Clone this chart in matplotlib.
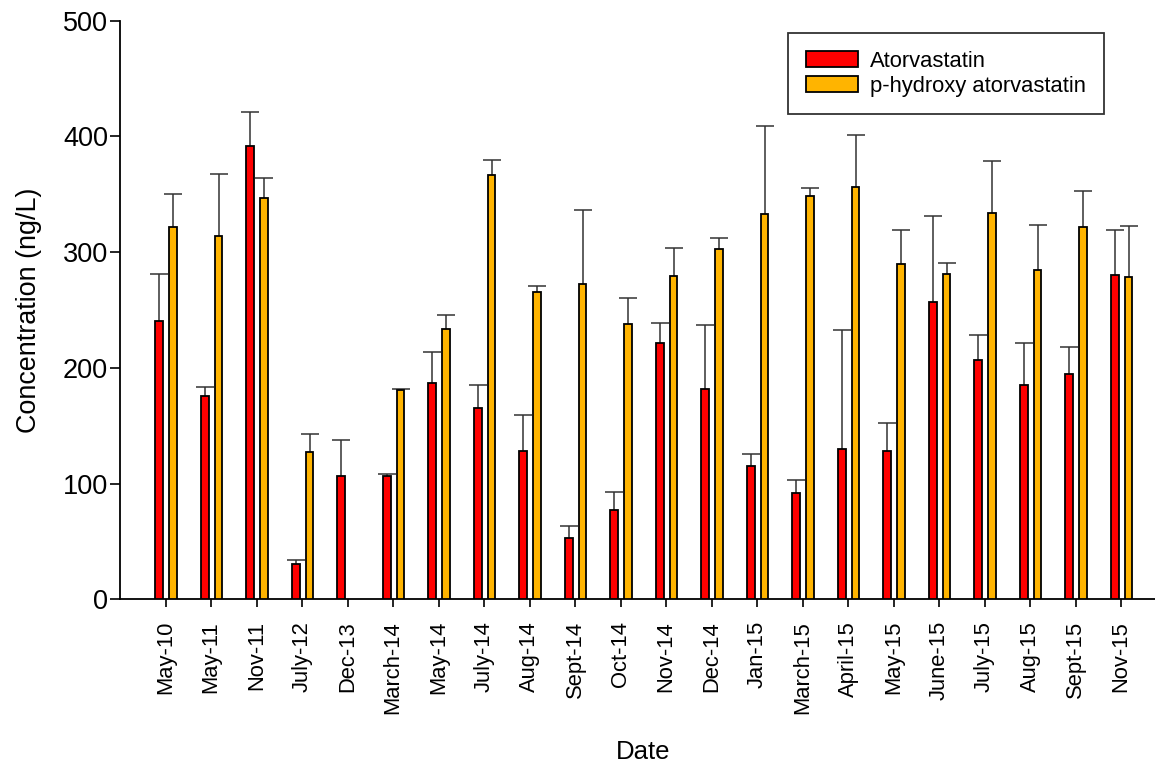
import numpy as np
import matplotlib
matplotlib.use("Agg")
import matplotlib.pyplot as plt

plt.rcParams['font.family'] = ['Liberation Sans', 'DejaVu Sans']

dates = ['May-10', 'May-11', 'Nov-11', 'July-12', 'Dec-13', 'March-14', 'May-14',
         'July-14', 'Aug-14', 'Sept-14', 'Oct-14', 'Nov-14', 'Dec-14', 'Jan-15',
         'March-15', 'April-15', 'May-15', 'June-15', 'July-15', 'Aug-15',
         'Sept-15', 'Nov-15']

atorvastatin = [240.3, 175.7, 392.0, 30.2, 106.8, 106.3, 186.7, 165.1, 127.9, 53.2,
                77.2, 221.3, 181.8, 115.2, 92.1, 129.6, 128.4, 257.0, 207.1, 185.5,
                194.7, 280.6]
atorvastatin_err = [41.1, 7.8, 29.2, 3.5, 31.2, 2.3, 26.8, 20.1, 31.1, 10.2,
                    15.5, 17.2, 55.5, 10.6, 11.3, 103.4, 24.0, 74.3, 21.3, 35.8,
                    23.6, 38.8]

p_hydroxy = [322.0, 314.3, 346.6, 127.6, np.nan, 180.9, 233.9, 366.7, 265.9, 272.5,
             238.2, 279.7, 303.0, 333.0, 348.6, 356.4, 290.1, 280.9, 333.9, 284.6,
             321.5, 278.3]
p_hydroxy_err = [28.0, 53.3, 17.5, 15.3, np.nan, 1.1, 12.1, 12.7, 4.9, 63.7,
                 22.5, 24.2, 9.5, 75.8, 7.2, 45.2, 29.1, 9.5, 45.2, 38.9,
                 31.4, 44.3]

x = np.arange(1, len(dates) + 1)
width = 0.17

fig = plt.figure(figsize=(11.55, 7.63), dpi=100)
ax = fig.add_axes([120 / 1155, 1 - 599.3 / 763, 1 - 120 / 1155, (599.3 - 20.8) / 763])


def draw_series(values, errors, offset, color, label):
    vals = np.array(values, dtype=float)
    errs = np.array(errors, dtype=float)
    ok = ~np.isnan(vals)
    xs = x[ok] + offset
    ax.bar(xs, vals[ok], width=width, color=color, edgecolor='black',
           linewidth=1.3, label=label, zorder=3)
    # upper-only error bars with a single cap at the top
    tops = vals[ok] + errs[ok]
    ax.vlines(xs, vals[ok], tops, colors='#333333', linewidth=1.1, zorder=2)
    ax.plot(xs, tops, linestyle='none', marker='_', markersize=12.7,
            markeredgewidth=1.1, color='#333333', zorder=2)


draw_series(atorvastatin, atorvastatin_err, -0.135, '#FF0000', 'Atorvastatin')
draw_series(p_hydroxy, p_hydroxy_err, 0.165, '#FFB400', 'p-hydroxy atorvastatin')

ax.set_xlim(0, (1155 - 120) / 45.5)
ax.set_ylim(0, 500)
ax.set_yticks([0, 100, 200, 300, 400, 500])
ax.set_xticks(x)
ax.set_xticklabels(dates, rotation=90, fontsize=15.8)
ax.tick_params(axis='x', length=5.5, width=1.2, pad=10, direction='out')
ax.tick_params(axis='y', length=7, width=1.2, pad=1.5, labelsize=19.5, direction='out')

for side in ('top', 'right'):
    ax.spines[side].set_visible(False)
for side in ('left', 'bottom'):
    ax.spines[side].set_linewidth(1.3)

ax.set_ylabel('Concentration (ng/L)', fontsize=19.4, labelpad=15)
fig.text(643 / 1155, 1 - 752 / 763, 'Date', fontsize=18.5, ha='center', va='center')

leg = ax.legend(loc='upper left', bbox_to_anchor=(788 / 1155, 1 - 33 / 763),
                bbox_transform=fig.transFigure, fontsize=15.8, frameon=True,
                fancybox=False, edgecolor='black', handlelength=2.4,
                handleheight=0.8, handletextpad=0.55, borderpad=0.8,
                labelspacing=0.18, borderaxespad=0)
leg.get_frame().set_linewidth(1.3)

fig.savefig('out.png', dpi=100)
